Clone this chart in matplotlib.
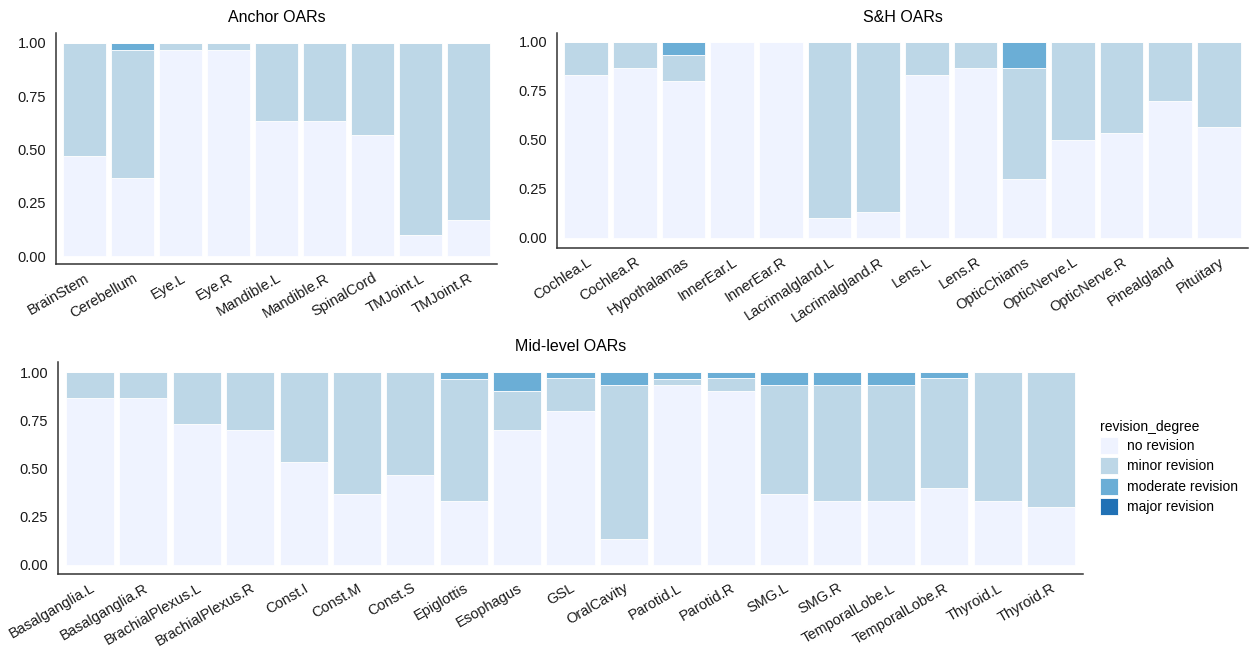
import matplotlib
matplotlib.use("Agg")
import matplotlib.pyplot as plt
from matplotlib.patches import Patch

plt.rcParams.update({"font.family": ["Liberation Sans", "DejaVu Sans"], "font.size": 10})

LEVELS = ["no revision", "minor revision", "moderate revision", "major revision"]
COLORS = ["#EFF3FF", "#BDD7E7", "#6BAED6", "#2171B5"]

# ---- Anchor OARs ----
anchor_names = ["BrainStem", "Cerebellum", "Eye.L", "Eye.R", "Mandible.L", "Mandible.R",
                "SpinalCord", "TMJoint.L", "TMJoint.R"]
anchor_no = [0.467, 0.367, 0.967, 0.967, 0.633, 0.633, 0.567, 0.100, 0.167]
anchor_minor = [0.533, 0.600, 0.033, 0.033, 0.367, 0.367, 0.433, 0.900, 0.833]
anchor_mod = [0.0, 0.033, 0.0, 0.0, 0.0, 0.0, 0.0, 0.0, 0.0]
anchor_major = [0.0] * 9

# ---- S&H OARs ----
sh_names = ["Cochlea.L", "Cochlea.R", "Hypothalamas", "InnerEar.L", "InnerEar.R",
            "Lacrimalgland.L", "Lacrimalgland.R", "Lens.L", "Lens.R", "OpticChiams",
            "OpticNerve.L", "OpticNerve.R", "Pinealgland", "Pituitary"]
sh_no = [0.833, 0.867, 0.800, 1.0, 1.0, 0.100, 0.133, 0.833, 0.867, 0.300, 0.500, 0.533, 0.700, 0.567]
sh_minor = [0.167, 0.133, 0.133, 0.0, 0.0, 0.900, 0.867, 0.167, 0.133, 0.567, 0.500, 0.467, 0.300, 0.433]
sh_mod = [0.0, 0.0, 0.067, 0.0, 0.0, 0.0, 0.0, 0.0, 0.0, 0.133, 0.0, 0.0, 0.0, 0.0]
sh_major = [0.0] * 14

# ---- Mid-level OARs ----
mid_names = ["Basalganglia.L", "Basalganglia.R", "BrachialPlexus.L", "BrachialPlexus.R",
             "Const.I", "Const.M", "Const.S", "Epiglottis", "Esophagus", "GSL", "OralCavity",
             "Parotid.L", "Parotid.R", "SMG.L", "SMG.R", "TemporalLobe.L", "TemporalLobe.R",
             "Thyroid.L", "Thyroid.R"]
mid_no = [0.867, 0.867, 0.733, 0.700, 0.533, 0.367, 0.467, 0.333, 0.700, 0.800, 0.133,
          0.933, 0.900, 0.367, 0.333, 0.333, 0.400, 0.333, 0.300]
mid_minor = [0.133, 0.133, 0.267, 0.300, 0.467, 0.633, 0.533, 0.633, 0.200, 0.167, 0.800,
             0.033, 0.067, 0.567, 0.600, 0.600, 0.567, 0.667, 0.700]
mid_mod = [0.0, 0.0, 0.0, 0.0, 0.0, 0.0, 0.0, 0.033, 0.100, 0.033, 0.067,
           0.033, 0.033, 0.067, 0.067, 0.067, 0.033, 0.0, 0.0]
mid_major = [0.0] * 19

W, H = 1249, 647
fig = plt.figure(figsize=(W / 100, H / 100), dpi=100)


def panel(box, names, series, title, rot, ylim):
    l, t, r, b = box
    ax = fig.add_axes([l / W, 1 - b / H, (r - l) / W, (b - t) / H])
    x = list(range(len(names)))
    bottom = [0.0] * len(names)
    for vals, c in zip(series, COLORS):
        ax.bar(x, vals, bottom=bottom, width=0.9, color=c, edgecolor="white", linewidth=0.6)
        bottom = [bb + v for bb, v in zip(bottom, vals)]
    ax.set_xlim(-0.6, len(names) - 0.4)
    ax.set_ylim(*ylim)
    ax.set_yticks([0, 0.25, 0.5, 0.75, 1.0])
    ax.set_yticklabels(["0.00", "0.25", "0.50", "0.75", "1.00"])
    ax.set_xticks(x)
    ax.set_xticklabels(names, rotation=rot, ha="right", rotation_mode="anchor")
    ax.tick_params(length=0, colors="#1a1a1a", labelsize=10.5)
    ax.tick_params(axis="y", pad=7)
    ax.tick_params(axis="x", pad=5)
    for s in ["top", "right"]:
        ax.spines[s].set_visible(False)
    for s in ["left", "bottom"]:
        ax.spines[s].set_color("#333333")
        ax.spines[s].set_linewidth(1.1)
    ax.set_title(title, fontsize=11.5, pad=8)
    return ax


panel((56, 32.7, 497, 264), anchor_names,
      [anchor_no, anchor_minor, anchor_mod, anchor_major], "Anchor OARs", 30, (-0.0375, 1.047))
panel((557, 32.7, 1248, 248), sh_names,
      [sh_no, sh_minor, sh_mod, sh_major], "S&H OARs", 33, (-0.051, 1.047))
panel((58, 362, 1083, 574), mid_names,
      [mid_no, mid_minor, mid_mod, mid_major], "Mid-level OARs", 30, (-0.047, 1.052))

handles = [Patch(facecolor=c, edgecolor="white", linewidth=0.6) for c in COLORS]
fig.legend(handles, LEVELS, title="revision_degree", loc="upper left",
           bbox_to_anchor=(1094 / W, 1 - 414 / H), frameon=False, fontsize=10,
           title_fontsize=10, handlelength=1.3, handleheight=1.5, labelspacing=0.25,
           handletextpad=0.7, alignment="left", borderaxespad=0)

fig.savefig("out.png", dpi=100)
